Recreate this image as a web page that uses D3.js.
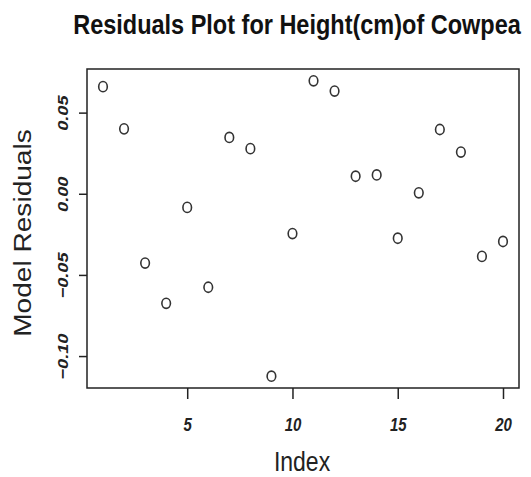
<!DOCTYPE html>
<html>
<head>
<meta charset="utf-8">
<script src="https://cdn.jsdelivr.net/npm/d3@7"></script>
<style>
  body { margin: 0; background: #fff; }
  text { font-family: "Liberation Sans", Arial, sans-serif; }
</style>
</head>
<body>
<div id="container"></div>
<script>
// data
const indexValues = [1, 2, 3, 4, 5, 6, 7, 8, 9, 10, 11, 12, 13, 14, 15, 16, 17, 18, 19, 20];
const residuals = [0.066, 0.040, -0.0427, -0.0675, -0.0084, -0.0576, 0.0347, 0.0278, -0.1124, -0.0245,
  0.0696, 0.0633, 0.0108, 0.0116, -0.0274, 0.0006, 0.0396, 0.0257, -0.0386, -0.0294];
const xTicks = [5, 10, 15, 20];
const yTicks = [-0.10, -0.05, 0.00, 0.05];

const width = 531, height = 477;
const plot = {left: 87, right: 519, top: 69, bottom: 388};
const stretch = 1.17; // the picture is a bit taller than wide

let data = indexValues.map((d, i) => ({x: d, y: residuals[i]}));

const svg = d3.select('#container')
  .append('svg')
  .attr('width', width)
  .attr('height', height);

// R style 4% padding
function padded(ext) {
  let p = (ext[1] - ext[0]) * 0.04;
  return [ext[0] - p, ext[1] + p];
}

const xScale = d3.scaleLinear()
  .domain(padded(d3.extent(indexValues)))
  .range([plot.left, plot.right]);
const yScale = d3.scaleLinear()
  .domain(padded(d3.extent(residuals)))
  .range([plot.bottom, plot.top]);

// box
svg.append('rect')
  .attr('x', plot.left)
  .attr('y', plot.top)
  .attr('width', plot.right - plot.left)
  .attr('height', plot.bottom - plot.top)
  .attr('fill', 'none')
  .attr('stroke', '#222')
  .attr('stroke-width', 1.5);

// x axis
const xAxis = svg.append('g')
  .attr('transform', `translate(0,${plot.bottom})`)
  .call(d3.axisBottom(xScale).tickValues(xTicks).tickSize(11).tickPadding(0).tickFormat(d3.format('d')));
xAxis.select('.domain').remove();
xAxis.selectAll('line').attr('stroke', '#222').attr('stroke-width', 1.5);
xAxis.selectAll('text')
  .attr('y', 0)
  .attr('dy', null)
  .attr('transform', `translate(0,43) scale(1,${stretch})`)
  .attr('font-size', 15)
  .attr('font-weight', 'bold')
  .attr('font-style', 'italic')
  .attr('fill', '#222');

// y axis
const yAxis = svg.append('g')
  .attr('transform', `translate(${plot.left},0)`)
  .call(d3.axisLeft(yScale).tickValues(yTicks).tickSize(8).tickFormat(d3.format('.2f')));
yAxis.select('.domain').remove();
yAxis.selectAll('line').attr('stroke', '#222').attr('stroke-width', 1.5);
yAxis.selectAll('text')
  .attr('x', 0)
  .attr('dy', null)
  .attr('text-anchor', 'middle')
  .attr('transform', `translate(-19,0) scale(1,${stretch}) rotate(-90)`)
  .attr('font-size', 15.5)
  .attr('font-weight', 'bold')
  .attr('font-style', 'italic')
  .attr('fill', '#222');

// points
svg.selectAll('.dot')
  .data(data)
  .enter()
  .append('ellipse')
  .attr('class', 'dot')
  .attr('cx', d => xScale(d.x))
  .attr('cy', d => yScale(d.y))
  .attr('rx', 4.3)
  .attr('ry', 5.1)
  .attr('fill', 'none')
  .attr('stroke', '#333')
  .attr('stroke-width', 1.6);

// title
svg.append('text')
  .attr('transform', `translate(297,34) scale(1,${stretch})`)
  .attr('text-anchor', 'middle')
  .attr('font-size', 23.5)
  .attr('font-weight', 'bold')
  .attr('fill', '#111')
  .text('Residuals Plot for Height(cm)of Cowpea');

// axis titles
svg.append('text')
  .attr('transform', `translate(302,471) scale(1,${stretch})`)
  .attr('text-anchor', 'middle')
  .attr('font-size', 23)
  .attr('fill', '#222')
  .text('Index');

svg.append('text')
  .attr('transform', `translate(31,233) scale(1,${stretch}) rotate(-90)`)
  .attr('text-anchor', 'middle')
  .attr('font-size', 24)
  .attr('fill', '#222')
  .text('Model Residuals');
</script>
</body>
</html>
